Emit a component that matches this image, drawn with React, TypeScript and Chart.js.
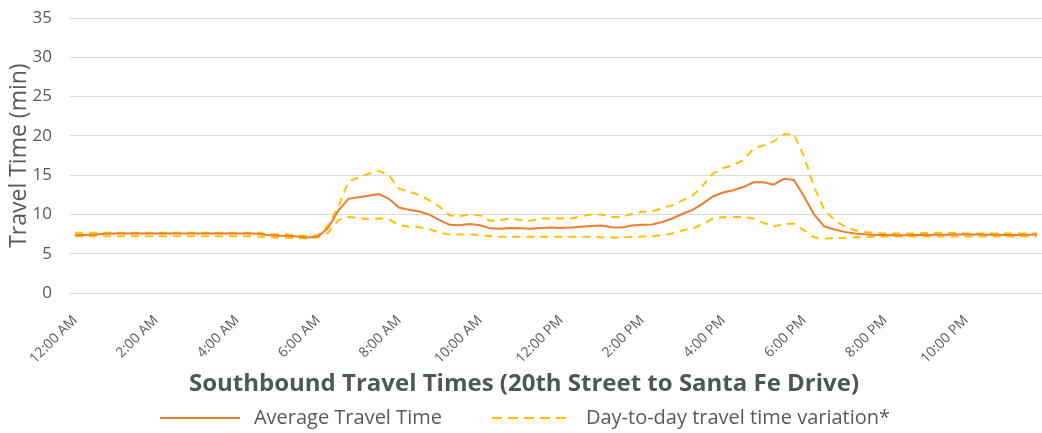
import React, { useEffect, useRef } from "react";
import { Chart, registerables } from "chart.js";

Chart.register(...registerables);

const hourLabels: string[] = [
  "12:00 AM", "1:00 AM", "2:00 AM", "3:00 AM", "4:00 AM", "5:00 AM",
  "6:00 AM", "7:00 AM", "8:00 AM", "9:00 AM", "10:00 AM", "11:00 AM",
  "12:00 PM", "1:00 PM", "2:00 PM", "3:00 PM", "4:00 PM", "5:00 PM",
  "6:00 PM", "7:00 PM", "8:00 PM", "9:00 PM", "10:00 PM", "11:00 PM",
];
const quarterMarks: string[] = ["00", "15", "30", "45"];
const categories: string[] = hourLabels.flatMap((h) =>
  quarterMarks.map((m) => h.replace(":00", ":" + m))
);

const tickLabels: string[] = [
  "12:00 AM", "2:00 AM", "4:00 AM", "6:00 AM", "8:00 AM", "10:00 AM",
  "12:00 PM", "2:00 PM", "4:00 PM", "6:00 PM", "8:00 PM", "10:00 PM",
];

const avgTravelTime: number[] = [
  7.4, 7.4, 7.45, 7.55, 7.6, 7.6, 7.6, 7.6,
  7.6, 7.6, 7.6, 7.6, 7.6, 7.6, 7.6, 7.6,
  7.6, 7.6, 7.55, 7.4, 7.3, 7.3, 7.2, 7.1,
  7.2, 8.3, 10.5, 12.0, 12.2, 12.4, 12.6, 12.0,
  10.9, 10.6, 10.4, 10.0, 9.3, 8.7, 8.65, 8.8,
  8.65, 8.25, 8.2, 8.3, 8.25, 8.2, 8.3, 8.35,
  8.3, 8.35, 8.45, 8.55, 8.6, 8.4, 8.35, 8.6,
  8.7, 8.75, 9.05, 9.5, 10.1, 10.6, 11.4, 12.3,
  12.8, 13.1, 13.5, 14.1, 14.1, 13.8, 14.55, 14.4,
  12.3, 10.0, 8.5, 8.1, 7.8, 7.6, 7.5, 7.4,
  7.4, 7.38, 7.38, 7.4, 7.4, 7.42, 7.42, 7.45,
  7.45, 7.45, 7.42, 7.42, 7.4, 7.4, 7.42, 7.45,
];

const variationUpper: number[] = [
  7.7, 7.7, 7.7, 7.7, 7.7, 7.7, 7.7, 7.7,
  7.7, 7.7, 7.7, 7.7, 7.7, 7.7, 7.7, 7.7,
  7.7, 7.7, 7.7, 7.55, 7.45, 7.45, 7.35, 7.25,
  7.4, 8.6, 11.0, 14.2, 14.7, 15.2, 15.55, 15.0,
  13.3, 12.9, 12.5, 11.8, 11.0, 9.9, 9.8, 10.0,
  9.9, 9.2, 9.3, 9.5, 9.3, 9.2, 9.5, 9.5,
  9.5, 9.5, 9.8, 10.0, 10.0, 9.7, 9.7, 10.1,
  10.35, 10.4, 10.8, 11.2, 11.8, 12.4, 13.7, 15.2,
  15.9, 16.3, 16.9, 18.4, 18.8, 19.3, 20.2, 20.2,
  17.4, 13.5, 10.6, 9.3, 8.5, 8.0, 7.8, 7.65,
  7.6, 7.6, 7.6, 7.6, 7.65, 7.7, 7.7, 7.65,
  7.6, 7.6, 7.6, 7.6, 7.6, 7.6, 7.6, 7.6,
];

const variationLower: number[] = [
  7.25, 7.25, 7.25, 7.25, 7.25, 7.25, 7.25, 7.25,
  7.25, 7.25, 7.25, 7.25, 7.25, 7.25, 7.25, 7.25,
  7.25, 7.25, 7.2, 7.15, 7.05, 7.05, 7.0, 6.95,
  7.1, 7.7, 9.3, 9.7, 9.6, 9.4, 9.5, 9.4,
  8.65, 8.45, 8.4, 8.15, 7.7, 7.45, 7.45, 7.5,
  7.4, 7.25, 7.17, 7.17, 7.17, 7.17, 7.17, 7.17,
  7.17, 7.17, 7.17, 7.17, 7.1, 7.08, 7.1, 7.17,
  7.2, 7.2, 7.4, 7.6, 8.0, 8.2, 8.8, 9.5,
  9.65, 9.7, 9.7, 9.5, 8.95, 8.5, 8.8, 8.85,
  8.0, 7.1, 6.95, 7.0, 7.05, 7.1, 7.15, 7.15,
  7.2, 7.2, 7.2, 7.2, 7.2, 7.2, 7.2, 7.2,
  7.2, 7.2, 7.2, 7.2, 7.2, 7.2, 7.2, 7.2,
];

const FONT = "'Open Sans', 'DejaVu Sans', sans-serif";
const TEXT = "#595959";
const AVG_COLOR = "#ED7D31";
const VAR_COLOR = "#FFC000";

const bottomLegend = {
  id: "bottomLegend",
  afterDraw(chart: any) {
    const ctx = chart.ctx as CanvasRenderingContext2D;
    const items = [0, 1].map((i) => {
      const ds = chart.data.datasets[i];
      return { text: ds.label as string, color: ds.borderColor as string, dashed: !!ds.borderDash };
    });
    ctx.save();
    ctx.font = `20px ${FONT}`;
    const lineW = 80;
    const textGap = 14;
    const itemGap = 50;
    const widths = items.map((it) => ctx.measureText(it.text).width);
    const total = widths.reduce((a, w) => a + lineW + textGap + w, 0) + itemGap;
    let x = chart.width / 2 + 4 - total / 2;
    const y = chart.height - 15;
    items.forEach((it, i) => {
      ctx.beginPath();
      ctx.strokeStyle = it.color;
      ctx.lineWidth = 2;
      ctx.setLineDash(it.dashed ? [10, 6] : []);
      ctx.moveTo(x, y);
      ctx.lineTo(x + lineW, y);
      ctx.stroke();
      ctx.setLineDash([]);
      ctx.fillStyle = TEXT;
      ctx.textBaseline = "middle";
      ctx.textAlign = "left";
      ctx.fillText(it.text, x + lineW + textGap, y);
      x += lineW + textGap + widths[i] + itemGap;
    });
    ctx.restore();
  },
};

export default function App() {
  const ref = useRef<HTMLCanvasElement>(null);
  useEffect(() => {
    document.body.style.margin = "0";
    const chart = new Chart(ref.current as HTMLCanvasElement, {
      type: "line",
      data: {
        labels: categories,
        datasets: [
          {
            label: "Average Travel Time",
            data: avgTravelTime,
            borderColor: AVG_COLOR,
            backgroundColor: AVG_COLOR,
            borderWidth: 2,
            pointRadius: 0,
            tension: 0,
            fill: false,
          },
          {
            label: "Day-to-day travel time variation*",
            data: variationUpper,
            borderColor: VAR_COLOR,
            backgroundColor: VAR_COLOR,
            borderWidth: 2,
            borderDash: [8, 6],
            pointRadius: 0,
            tension: 0,
            fill: false,
          },
          {
            label: "Day-to-day travel time variation* (lower)",
            data: variationLower,
            borderColor: VAR_COLOR,
            backgroundColor: VAR_COLOR,
            borderWidth: 2,
            borderDash: [8, 6],
            pointRadius: 0,
            tension: 0,
            fill: false,
          },
        ],
      },
      options: {
        animation: false,
        responsive: true,
        maintainAspectRatio: false,
        layout: { padding: { left: 6, right: 0, top: 18, bottom: 32 } },
        plugins: {
          legend: { display: false },
          tooltip: { enabled: false },
          title: {
            display: true,
            position: "bottom",
            text: "Southbound Travel Times (20th Street to Santa Fe Drive)",
            color: "#4E5757",
            font: { family: FONT, size: 24, weight: "bold" },
            padding: { top: 7, bottom: 2 },
          },
        },
        scales: {
          x: {
            type: "category",
            offset: true,
            grid: { display: false },
            border: { display: false },
            afterFit: (scale: any) => {
              scale.paddingLeft = 0;
              scale.paddingRight = 0;
              scale.height = 70;
            },
            ticks: {
              autoSkip: false,
              maxRotation: 45,
              minRotation: 45,
              color: TEXT,
              font: { family: FONT, size: 14 },
              padding: 11,
              callback: (_v: any, index: number) =>
                tickLabels.includes(categories[index]) ? categories[index] : "",
            },
          },
          y: {
            min: 0,
            max: 35,
            afterFit: (scale: any) => {
              scale.width = 64;
              scale.paddingTop = 0;
              scale.paddingBottom = 0;
            },
            ticks: {
              stepSize: 5,
              color: TEXT,
              font: { family: FONT, size: 17 },
              padding: 18,
            },
            grid: { color: "#D9D9D9", drawTicks: false, lineWidth: 1 },
            border: { display: false },
            title: {
              display: true,
              text: "Travel Time (min)",
              color: TEXT,
              font: { family: FONT, size: 23 },
              padding: 0,
            },
          },
        },
      },
      plugins: [bottomLegend],
    });
    return () => chart.destroy();
  }, []);
  return (
    <div style={{ position: "fixed", left: 0, top: 0, width: 1042, height: 433 }}>
      <canvas ref={ref} />
    </div>
  );
}
